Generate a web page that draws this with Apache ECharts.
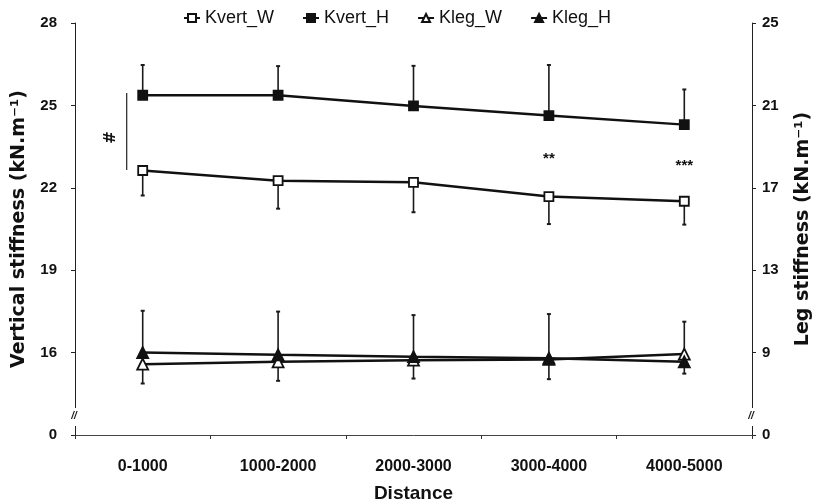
<!DOCTYPE html>
<html>
<head>
<meta charset="utf-8">
<script src="https://cdn.jsdelivr.net/npm/echarts@6/dist/echarts.min.js"></script>
<style>html,body{margin:0;padding:0;background:#fff;}#c{width:819px;height:504px;}</style>
</head>
<body>
<div id="c"></div>
<script>
const categories = ['0-1000', '1000-2000', '2000-3000', '3000-4000', '4000-5000'];
const kvertW = [22.63, 22.26, 22.20, 21.68, 21.51];
const kvertWErrEnd = [21.72, 21.24, 21.11, 20.68, 20.66];
const kvertH = [25.37, 25.37, 24.98, 24.63, 24.30];
const kvertHErrEnd = [26.47, 26.43, 26.44, 26.47, 25.58];
const klegW = [8.44, 8.55, 8.63, 8.67, 8.93];
const klegWErrEnd = [7.50, 7.63, 7.74, 7.71, 7.98];
const klegH = [9.00, 8.89, 8.80, 8.73, 8.55];
const klegHErrEnd = [11.03, 10.99, 10.82, 10.87, 10.50];
const leftTicks = [13, 16, 19, 22, 25, 28];
const rightTicks = [5, 9, 13, 17, 21, 25];

const FONT = '"Liberation Sans", Arial, sans-serif';
const WFONT = '"DejaVu Sans", sans-serif';
const chart = echarts.init(document.getElementById('c'), null, {renderer: 'canvas'});

function errRender(params, api) {
  const x = api.value(0);
  const p1 = api.coord([x, api.value(1)]);
  const p2 = api.coord([x, api.value(2)]);
  return {
    type: 'group',
    children: [
      {type: 'line', shape: {x1: p1[0], y1: p1[1], x2: p2[0], y2: p2[1]}, style: {stroke: '#1a1a1a', lineWidth: 1.6}},
      {type: 'line', shape: {x1: p2[0] - 2, y1: p2[1], x2: p2[0] + 2, y2: p2[1]}, style: {stroke: '#1a1a1a', lineWidth: 2}}
    ]
  };
}
function errSeries(vals, ends, axisIdx) {
  return {
    type: 'custom', yAxisIndex: axisIdx, z: 1, silent: true,
    renderItem: errRender,
    encode: {x: 0, y: [1, 2]},
    data: categories.map((c, i) => [i, vals[i], ends[i]])
  };
}
function lineSeries(name, data, axisIdx, symbol, filled) {
  return {
    name: name, type: 'line', yAxisIndex: axisIdx, z: 5,
    data: data, symbol: symbol, symbolSize: symbol === 'rect' ? 9 : 11,
    lineStyle: {color: '#111', width: 2.5},
    itemStyle: {color: filled ? '#111' : '#fff', borderColor: '#111', borderWidth: 1.8},
    emphasis: {disabled: true}
  };
}

const option = {
  backgroundColor: '#fff',
  animation: false,
  grid: {left: 75, right: 67, top: 23, bottom: 69, containLabel: false, outerBoundsMode: 'none'},
  legend: {
    top: 4, left: 178, itemGap: 28, itemWidth: 16, itemHeight: 10,
    textStyle: {fontFamily: FONT, fontSize: 18, color: '#111'},
    data: ['Kvert_W', 'Kvert_H', 'Kleg_W', 'Kleg_H']
  },
  xAxis: {
    type: 'category', data: categories, boundaryGap: true,
    axisLine: {lineStyle: {color: '#444', width: 1}},
    axisTick: {show: true, length: 4, lineStyle: {color: '#333'}},
    axisLabel: {fontFamily: FONT, fontWeight: 'bold', fontSize: 16, color: '#111', margin: 24},
    name: 'Distance', nameLocation: 'middle', nameGap: 49,
    nameTextStyle: {fontFamily: FONT, fontWeight: 'bold', fontSize: 19, color: '#111'}
  },
  yAxis: [
    {
      type: 'value', min: 13, max: 28, position: 'left',
      splitLine: {show: false},
      axisLine: {show: true, lineStyle: {color: '#222', width: 1}},
      axisTick: {show: true, length: 4, customValues: leftTicks, lineStyle: {color: '#222'}},
      axisLabel: {customValues: leftTicks, formatter: v => (v === 13 ? '0' : String(v)),
        fontFamily: FONT, fontWeight: 'bold', fontSize: 15, color: '#111', margin: 18},
      name: 'Vertical stiffness (kN.m\u207B\u00B9)', nameLocation: 'middle', nameGap: 46, nameRotate: 90,
      nameTextStyle: {fontFamily: WFONT, fontWeight: 'bold', fontSize: 19, color: '#111'}
    },
    {
      type: 'value', min: 5, max: 25, position: 'right',
      splitLine: {show: false},
      axisLine: {show: true, lineStyle: {color: '#222', width: 1}},
      axisTick: {show: true, length: 4, customValues: rightTicks, lineStyle: {color: '#222'}},
      axisLabel: {customValues: rightTicks, formatter: v => (v === 5 ? '0' : String(v)),
        fontFamily: FONT, fontWeight: 'bold', fontSize: 15, color: '#111', margin: 10},
      name: 'Leg stiffness (kN.m\u207B\u00B9)', nameLocation: 'middle', nameGap: 42, nameRotate: 90,
      nameTextStyle: {fontFamily: WFONT, fontWeight: 'bold', fontSize: 19, color: '#111'}
    }
  ],
  series: [
    errSeries(kvertW, kvertWErrEnd, 0),
    errSeries(kvertH, kvertHErrEnd, 0),
    errSeries(klegW, klegWErrEnd, 1),
    errSeries(klegH, klegHErrEnd, 1),
    lineSeries('Kvert_W', kvertW, 0, 'rect', false),
    lineSeries('Kvert_H', kvertH, 0, 'rect', true),
    lineSeries('Kleg_W', klegW, 1, 'triangle', false),
    lineSeries('Kleg_H', klegH, 1, 'triangle', true)
  ]
};
chart.setOption(option);

// annotations placed through the chart's own scales
const px = (cat, v) => chart.convertToPixel({xAxisIndex: 0, yAxisIndex: 0}, [cat, v]);
const a0top = px(0, 25.45), a0bot = px(0, 22.65), aHash = px(0, 23.83);
const a3 = px(3, 23.05), a4 = px(4, 22.8);
const yBot = px(0, 13)[1];
const gl = px(0, 13)[0] - (px(1, 13)[0] - px(0, 13)[0]) / 2;
const gr = px(4, 13)[0] + (px(1, 13)[0] - px(0, 13)[0]) / 2;
chart.setOption({
  graphic: [
    {type: 'line', shape: {x1: a0top[0] - 16, y1: a0top[1], x2: a0bot[0] - 16, y2: a0bot[1]}, style: {stroke: '#222', lineWidth: 1.2}, z: 10},
    {type: 'text', x: aHash[0] - 36, y: aHash[1], rotation: -Math.PI / 2, style: {text: '#', font: 'bold 15px ' + WFONT, fill: '#111', align: 'center', verticalAlign: 'middle'}, z: 10},
    {type: 'text', x: a3[0], y: a3[1], style: {text: '**', font: 'bold 15px ' + FONT, fill: '#111', align: 'center', verticalAlign: 'middle'}, z: 10},
    {type: 'text', x: a4[0], y: a4[1], style: {text: '***', font: 'bold 15px ' + FONT, fill: '#111', align: 'center', verticalAlign: 'middle'}, z: 10},
    {type: 'rect', shape: {x: gl - 3, y: yBot - 27, width: 6, height: 18}, style: {fill: '#fff'}, z: 50},
    {type: 'rect', shape: {x: gr - 3, y: yBot - 27, width: 6, height: 18}, style: {fill: '#fff'}, z: 50},
    {type: 'text', x: gl - 1, y: yBot - 19, style: {text: '//', font: 'italic bold 10px ' + FONT, fill: '#111', align: 'center', verticalAlign: 'middle'}, z: 60},
    {type: 'text', x: gr - 1, y: yBot - 19, style: {text: '//', font: 'italic bold 10px ' + FONT, fill: '#111', align: 'center', verticalAlign: 'middle'}, z: 60}
  ]
});
</script>
</body>
</html>
